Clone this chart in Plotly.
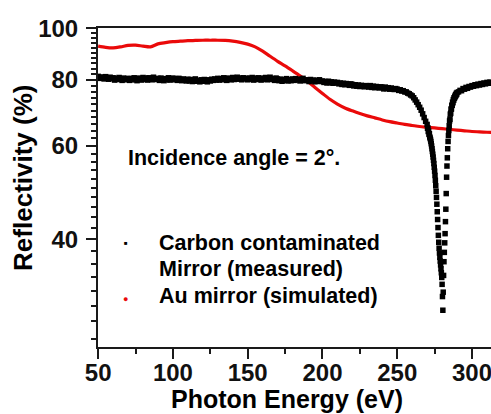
import numpy as np
import plotly.graph_objects as go

# ---- measured reflectivity of the carbon-contaminated mirror (%) ----
# coarse scan 50-269 eV (1 eV step)
meas_energy_low = np.arange(50, 270, 1.0)
meas_refl_low = [
    81.2, 80.5, 81.0, 80.7, 80.3, 81.1, 80.6, 80.2, 80.9, 80.4,
    80.7, 79.9, 80.5, 80.1, 80.8, 80.3, 79.8, 80.6, 80.2, 80.0,
    80.5, 79.8, 80.4, 80.0, 80.7, 80.1, 79.7, 80.6, 80.3, 79.9,
    80.8, 80.2, 80.6, 79.9, 80.7, 80.4, 80.0, 80.9, 80.3, 80.1,
    80.5, 79.8, 80.6, 80.1, 79.7, 80.4, 80.0, 80.7, 79.9, 80.3,
    80.6, 80.0, 80.4, 79.8, 80.5, 80.1, 79.7, 80.3, 80.0, 79.6,
    80.2, 79.6, 80.1, 79.4, 79.9, 80.3, 79.5, 79.8, 79.3, 80.0,
    79.5, 80.1, 79.7, 79.3, 80.0, 79.6, 80.2, 79.8, 80.3, 79.9,
    80.5, 79.9, 80.4, 80.0, 80.7, 80.2, 79.8, 80.6, 80.3, 80.0,
    80.8, 80.1, 80.5, 80.9, 80.2, 80.6, 80.0, 80.7, 80.3, 80.5,
    80.0, 80.6, 80.2, 80.8, 79.9, 80.5, 80.1, 80.7, 80.3, 79.9,
    80.6, 80.2, 80.8, 80.0, 80.5, 80.9, 80.1, 80.4, 79.8, 80.6,
    80.3, 79.7, 80.2, 79.5, 80.1, 79.8, 80.4, 79.6, 80.0, 79.7,
    80.3, 79.8, 80.4, 79.9, 80.2, 79.6, 80.1, 80.5, 79.7, 80.0,
    79.9, 79.4, 80.1, 79.6, 79.9, 79.3, 79.8, 79.5, 80.0, 79.4,
    79.6, 79.1, 79.4, 78.9, 79.5, 79.0, 79.3, 78.8, 79.2, 78.9,
    79.1, 78.6, 78.9, 78.4, 78.8, 78.3, 78.7, 78.5, 78.1, 78.6,
    78.4, 77.9, 78.3, 77.8, 78.2, 77.7, 78.1, 77.9, 77.6, 78.0,
    77.9, 77.5, 78.0, 77.4, 77.8, 77.3, 77.7, 77.5, 77.2, 77.6,
    77.4, 76.9, 77.5, 77.0, 77.3, 76.8, 77.2, 76.9, 76.7, 77.0,
    76.8, 76.4, 76.6, 76.2, 76.3, 75.9, 75.9, 75.5, 75.3, 74.9,
    74.6, 74.0, 73.3, 72.6, 71.8, 71.0, 70.1, 69.0, 67.9, 66.8,
]

# fine scan across the carbon K-edge, 270-290 eV (0.25 eV step)
meas_energy_edge = np.arange(270, 290.001, 0.25)
meas_refl_edge = [
    65.9, 64.8, 64.9, 63.9,
    64.0, 63.1, 63.3, 62.4,
    62.1, 61.7, 61.2, 60.6,
    60.0, 59.3, 58.6, 57.9,
    57.2, 56.4, 55.6, 54.7,
    53.8, 52.8, 51.7, 50.5,
    49.3, 48.0, 46.6, 45.1,
    43.6, 42.1, 40.7, 39.5,
    38.5, 37.7, 37.0, 36.4,
    35.8, 35.2, 34.6, 33.9,
    32.9, 31.2, 29.4, 31.8,
    34.2, 36.3, 37.8, 39.4,
    41.0, 43.2, 45.6, 48.8,
    52.4, 55.0, 57.0, 59.3,
    61.2, 62.8, 64.2, 65.5,
    66.9, 67.4, 68.9, 69.2,
    70.4, 70.5, 71.6, 71.6,
    72.6, 72.4, 73.4, 73.2,
    74.0, 73.8, 74.5, 74.3,
    75.0, 74.7, 75.4, 75.1,
    75.7,
]

# coarse scan above the edge, 291-313 eV
meas_energy_high = np.arange(291, 314, 1.0)
meas_refl_high = [
    75.9, 76.4, 76.3, 77.0, 76.8, 77.4, 77.1, 77.7, 77.5, 78.0,
    77.8, 78.3, 78.0, 78.5, 78.2, 78.7, 78.4, 78.9, 78.6, 79.1,
    78.8, 79.2, 79.0,
]

# ---- simulated reflectivity of a clean Au mirror (%) ----
sim_energy = np.arange(50, 316, 5.0)
sim_refl = [
    92.6, 92.1, 91.9, 92.3, 92.9, 93.0, 92.6, 92.3, 93.5, 94.0,
    94.4, 94.6, 94.8, 94.9, 95.0, 95.0, 95.0, 94.9, 94.6, 94.1,
    93.4, 92.3, 90.6, 88.6, 86.7, 85.0, 83.2, 81.4, 79.5, 77.4,
    75.4, 73.5, 72.0, 70.8, 69.9, 69.1, 68.4, 67.8, 67.2, 66.7,
    66.3, 65.9, 65.6, 65.3, 65.1, 64.9, 64.7, 64.5, 64.3, 64.1,
    63.9, 63.8, 63.7, 63.6,
]

# axis ticks
x_major = [50, 100, 150, 200, 250, 300]
x_minor = [75, 125, 175, 225, 275]
y_major = [40, 60, 80, 100]
y_minor = [v for v in range(26, 100, 2) if v not in y_major]

meas_energy = np.concatenate([meas_energy_low, meas_energy_edge, meas_energy_high])
meas_refl = meas_refl_low + meas_refl_edge + meas_refl_high

FONT = "Liberation Sans, Arial, Helvetica, sans-serif"
RED = "#ea0a0a"

fig = go.Figure()

fig.add_trace(go.Scatter(
    x=sim_energy, y=sim_refl, mode="lines",
    line=dict(color=RED, width=3.2, shape="spline", smoothing=0.8),
    showlegend=False,
))
fig.add_trace(go.Scatter(
    x=meas_energy, y=meas_refl, mode="markers",
    marker=dict(symbol="square", size=5.5, color="black", line=dict(width=0)),
    showlegend=False,
))

# left edge of plot area at 98.5 px, bottom 347 px, width 392.5 px, height 319 px
def px(xp):
    return (xp - 98.5) / 392.5

def py(yp):
    return (347 - yp) / 319

def note(text, x, y, size, color="black", anchor="left", angle=0):
    fig.add_annotation(
        text=text, xref="paper", yref="paper", x=x, y=y,
        xanchor=anchor, yanchor="middle", showarrow=False, textangle=angle,
        font=dict(family=FONT, size=size, color=color, weight="bold"),
    )

note("Incidence angle = 2°.", px(126), py(158), 21.5)
note("■", px(126), py(243), 6, anchor="center")
note("●", px(126), py(299), 9, color=RED, anchor="center")
note("Carbon contaminated", px(157), py(242.5), 21.5)
note("Mirror (measured)", px(157), py(269), 21.5)
note("Au mirror (simulated)", px(157), py(295.5), 21.5)
note("Photon Energy (eV)", px(287.5), py(398.5), 25, anchor="center")
note("Reflectivity (%)", px(24), py(177.5), 26, anchor="center", angle=-90)

axis_common = dict(
    showline=True, linecolor="#1a1a1a", linewidth=2,
    ticks="outside", ticklen=10, tickwidth=2, tickcolor="#1a1a1a",
    showgrid=False, zeroline=False, automargin=False,
    ticklabeloverflow="allow",
    tickfont=dict(family=FONT, size=24, color="#111", weight="bold"),
)

fig.update_xaxes(
    **axis_common, mirror=True, ticklabelstandoff=-7,
    range=[49.9, 312.7], tickmode="array", tickvals=x_major,
    minor=dict(tickmode="array", tickvals=x_minor, ticks="outside",
               ticklen=5, tickwidth=2, tickcolor="#1a1a1a"),
)
fig.update_yaxes(
    **axis_common, type="log", ticklabelstandoff=3,
    range=[np.log10(25.06), 2.0008], tickmode="array", tickvals=y_major,
    ticktext=[str(v) for v in y_major],
    minor=dict(tickmode="array", tickvals=y_minor, ticks="outside",
               ticklen=5, tickwidth=1.5, tickcolor="#1a1a1a"),
)

fig.update_layout(
    width=491, height=414,
    margin=dict(l=98, r=0, t=28, b=67),
    paper_bgcolor="white", plot_bgcolor="white",
    showlegend=False,
)

fig.write_html("out.html")
